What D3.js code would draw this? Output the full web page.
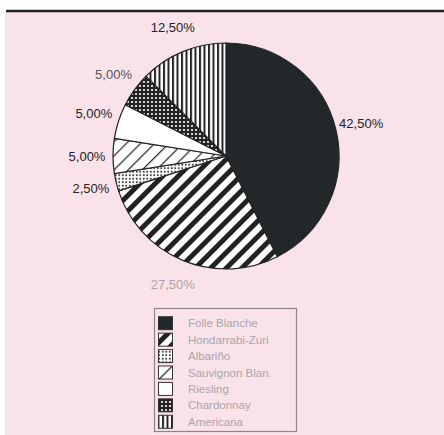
<!DOCTYPE html>
<html>
<head>
<meta charset="utf-8">
<script src="https://cdn.jsdelivr.net/npm/d3@7"></script>
<style>
  body { margin: 0; background: #fff; }
  text { font-family: "Liberation Sans", Arial, sans-serif; }
</style>
</head>
<body>
<svg class="chart" width="444" height="435"></svg>
<script>
// grape varieties, share of the total (%)
const categories = ["Folle Blanche", "Hondarrabi-Zuri", "Albariño", "Sauvignon Blan.", "Riesling", "Chardonnay", "Americana"]
const values = [42.5, 27.5, 2.5, 5, 5, 5, 12.5]
const patterns = ["solid", "thick", "dots", "thin", "white", "darkdots", "vert"]
const labelColors = ["#222", "#a8a4a6", "#222", "#222", "#222", "#555", "#222"]

let width = 444
let height = 435
const center = {x: 226, y: 156}
const radius = 113

var svg = d3.select(".chart")

// background and the rule on top
svg.append("rect")
    .attr("x", 5).attr("y", 12)
    .attr("width", width - 5).attr("height", height - 12)
    .attr("fill", "#fae2ea")

svg.append("line")
    .attr("x1", 6).attr("x2", width)
    .attr("y1", 11).attr("y2", 11)
    .attr("stroke", "#222")
    .attr("stroke-width", 2.5)

// fill patterns
let defs = svg.append("defs")

function make_patterns() {
    let p = defs.append("pattern").attr("id", "thick")
        .attr("patternUnits", "userSpaceOnUse")
        .attr("width", 11).attr("height", 11)
        .attr("patternTransform", "rotate(45)")
    p.append("rect").attr("width", 11).attr("height", 11).attr("fill", "#fff")
    p.append("rect").attr("width", 5).attr("height", 11).attr("fill", "#222")

    p = defs.append("pattern").attr("id", "thin")
        .attr("patternUnits", "userSpaceOnUse")
        .attr("width", 10).attr("height", 10)
        .attr("patternTransform", "rotate(45)")
    p.append("rect").attr("width", 10).attr("height", 10).attr("fill", "#fff")
    p.append("rect").attr("width", 1.3).attr("height", 10).attr("fill", "#333")

    p = defs.append("pattern").attr("id", "dots")
        .attr("patternUnits", "userSpaceOnUse")
        .attr("width", 3.5).attr("height", 3.5)
    p.append("rect").attr("width", 3.5).attr("height", 3.5).attr("fill", "#fff")
    p.append("circle").attr("cx", 1.75).attr("cy", 1.75).attr("r", 1).attr("fill", "#333")

    p = defs.append("pattern").attr("id", "darkdots")
        .attr("patternUnits", "userSpaceOnUse")
        .attr("width", 4).attr("height", 4)
    p.append("rect").attr("width", 4).attr("height", 4).attr("fill", "#222")
    p.append("circle").attr("cx", 2).attr("cy", 2).attr("r", 1.1).attr("fill", "#fff")

    p = defs.append("pattern").attr("id", "vert")
        .attr("patternUnits", "userSpaceOnUse")
        .attr("width", 4.5).attr("height", 4.5)
    p.append("rect").attr("width", 4.5).attr("height", 4.5).attr("fill", "#fff")
    p.append("rect").attr("width", 2).attr("height", 4.5).attr("fill", "#222")
}

function fill_of(k) {
    if (k === "solid") return "#22282a"
    if (k === "white") return "#fff"
    return `url(#${k})`
}

make_patterns()

let data = categories.map((c, i) => {
    return {
        name: c,
        value: values[i],
        pattern: patterns[i],
        color: labelColors[i]
    }
})

let pie = d3.pie().sort(null).value(d => d.value)
let arc = d3.arc().innerRadius(0).outerRadius(radius)
let labelArc = d3.arc().innerRadius(139).outerRadius(139)

const locale = d3.formatLocale({decimal: ",", thousands: ".", grouping: [3], currency: ["", "€"]})
const fmt = locale.format(".2f")

let g = svg.append("g")
    .attr("transform", `translate(${center.x}, ${center.y})`)

g.selectAll("path.slice")
    .data(pie(data))
    .enter()
    .append("path")
    .classed("slice", true)
    .attr("d", arc)
    .attr("fill", d => fill_of(d.data.pattern))
    .attr("stroke", "#222")
    .attr("stroke-width", 1.2)

g.selectAll("text.pct")
    .data(pie(data))
    .enter()
    .append("text")
    .classed("pct", true)
    .attr("x", d => labelArc.centroid(d)[0])
    .attr("y", d => labelArc.centroid(d)[1])
    .attr("dy", "0.35em")
    .attr("text-anchor", "middle")
    .attr("font-size", 13)
    .attr("fill", d => d.data.color)
    .text(d => fmt(d.data.value) + "%")

// legend
let legendY = d3.scaleBand()
    .domain(categories)
    .range([315, 430])

let legend = svg.append("g")

legend.append("rect")
    .attr("x", 154.5).attr("y", 308.5)
    .attr("width", 142).attr("height", 123)
    .attr("fill", "none")
    .attr("stroke", "#8a8587")
    .attr("stroke-width", 1.2)

legend.selectAll("rect.swatch")
    .data(data)
    .enter()
    .append("rect")
    .classed("swatch", true)
    .attr("x", 158.5)
    .attr("y", d => legendY(d.name) + legendY.bandwidth() / 2 - 6.5)
    .attr("width", 14)
    .attr("height", 13)
    .attr("fill", d => fill_of(d.pattern))
    .attr("stroke", "#333")

legend.selectAll("text.name")
    .data(data)
    .enter()
    .append("text")
    .classed("name", true)
    .attr("x", 188)
    .attr("y", d => legendY(d.name) + legendY.bandwidth() / 2)
    .attr("dy", "0.35em")
    .attr("font-size", 11.5)
    .attr("fill", "#aaa5a7")
    .text(d => d.name)
</script>
</body>
</html>
